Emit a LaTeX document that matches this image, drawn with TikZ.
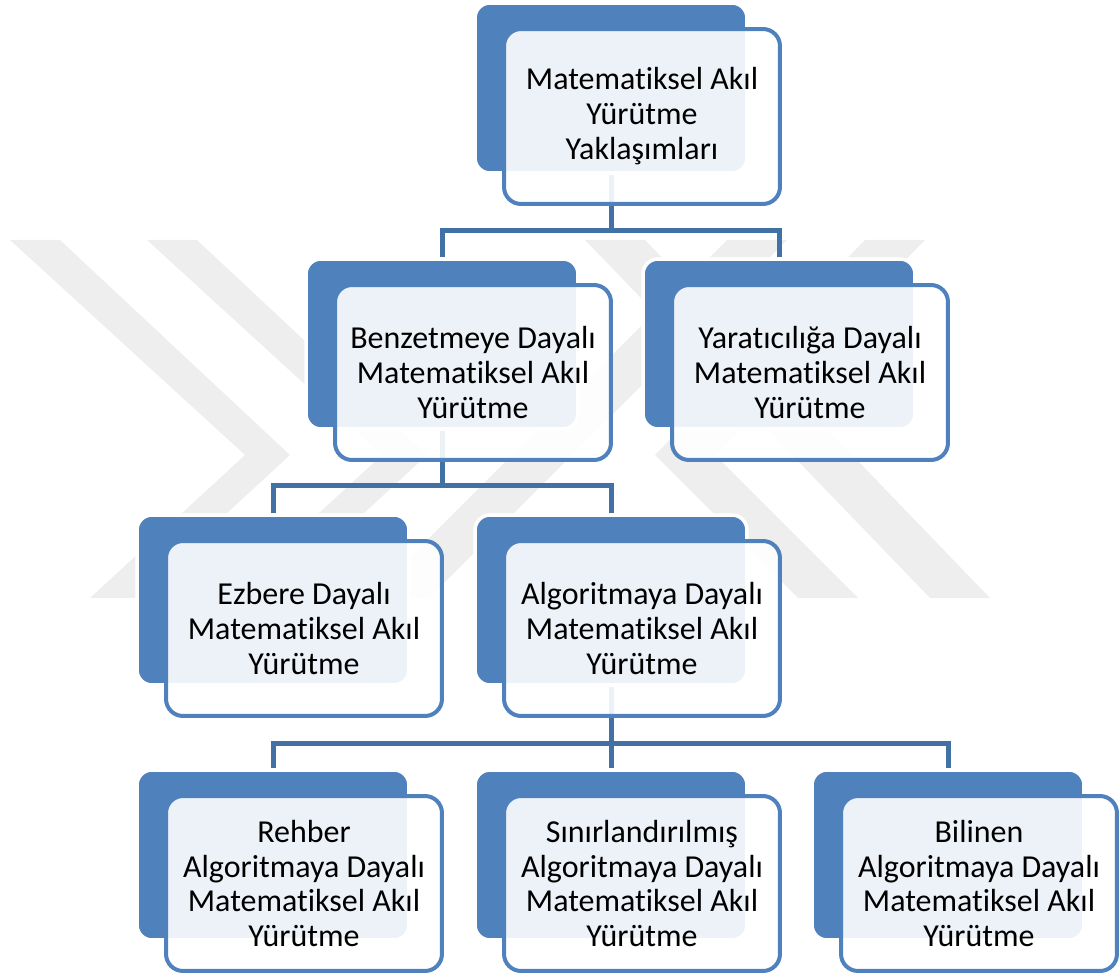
\documentclass[tikz,border=0pt]{standalone}
\usepackage{fontspec}
\setmainfont{Carlito}[Ligatures=NoCommon]
\usetikzlibrary{positioning,calc}
\definecolor{smblue}{RGB}{79,129,189}
\definecolor{smline}{RGB}{66,113,165}
\definecolor{wmgray}{RGB}{238,238,238}

\begin{document}
\begin{tikzpicture}[x=0.02cm, y=-0.02cm,
  backbox/.style={draw=white, line width=2pt, fill=smblue, rounded corners=0.3cm,
    minimum width=5.44cm, minimum height=3.4cm, inner sep=0pt},
  frontbox/.style={draw=smblue, line width=0.08cm, fill=white, fill opacity=0.9, text opacity=1,
    rounded corners=0.34cm, minimum width=5.52cm, minimum height=3.5cm, inner sep=0pt,
    align=center, font=\fontsize{18.2pt}{19.9pt}\selectfont},
  conn/.style={draw=smline, line width=0.1cm}]
  \useasboundingbox (0,0) rectangle (1119,976);

  % watermark
  \fill[wmgray] (10,240) -- (60,240) -- (290,455) -- (135,598) -- (90,598) -- (245,455) -- cycle;
  \fill[wmgray] (147,240) -- (197,240) -- (427,455) -- (272,598) -- (227,598) -- (382,455) -- cycle;
  \fill[wmgray] (727,240) -- (787,240) -- (429,598) -- (369,598) -- cycle;
  \fill[wmgray] (865,240) -- (925,240) -- (715,455) -- (858,598) -- (798,598) -- (655,455) -- cycle;
  \fill[wmgray] (585,240) -- (645,240) -- (990,598) -- (930,598) -- cycle;

  % back boxes
  \node[backbox] (rootb) at (611,88) {};
  \node[backbox] (benzb) at (442,344) {};
  \node[backbox] (yarab) at (779,344) {};
  \node[backbox] (ezbb) at (273,600) {};
  \node[backbox] (algb) at (611,600) {};
  \node[backbox] (rehb) at (273,855) {};
  \node[backbox] (sinb) at (611,855) {};
  \node[backbox] (bilb) at (948,855) {};

  % connectors
  \draw[conn] (rootb.south) -- ++(0,56) -| (benzb.north);
  \draw[conn] (rootb.south) -- ++(0,56) -| (yarab.north);
  \draw[conn] (benzb.south) -- ++(0,55) -| (ezbb.north);
  \draw[conn] (benzb.south) -- ++(0,55) -| (algb.north);
  \draw[conn] (algb.south) -- ++(0,57) -| (rehb.north);
  \draw[conn] (algb.south) -- ++(0,57) -| (sinb.north);
  \draw[conn] (algb.south) -- ++(0,57) -| (bilb.north);

  % front boxes
  \node[frontbox] (root) at (642,116.5) {Matematiksel Akıl\\Yürütme\\Yaklaşımları};
  \node[frontbox] (benz) at (473,372.5) {Benzetmeye Dayalı\\Matematiksel Akıl\\Yürütme};
  \node[frontbox] (yara) at (810,372.5) {Yaratıcılığa Dayalı\\Matematiksel Akıl\\Yürütme};
  \node[frontbox] (ezb) at (304,628.5) {Ezbere Dayalı\\Matematiksel Akıl\\Yürütme};
  \node[frontbox] (alg) at (642,628.5) {Algoritmaya Dayalı\\Matematiksel Akıl\\Yürütme};
  \node[frontbox] (reh) at (304,883.5) {Rehber\\Algoritmaya Dayalı\\Matematiksel Akıl\\Yürütme};
  \node[frontbox] (sin) at (642,883.5) {Sınırlandırılmış\\Algoritmaya Dayalı\\Matematiksel Akıl\\Yürütme};
  \node[frontbox] (bil) at (979,883.5) {Bilinen\\Algoritmaya Dayalı\\Matematiksel Akıl\\Yürütme};
\end{tikzpicture}
\end{document}
